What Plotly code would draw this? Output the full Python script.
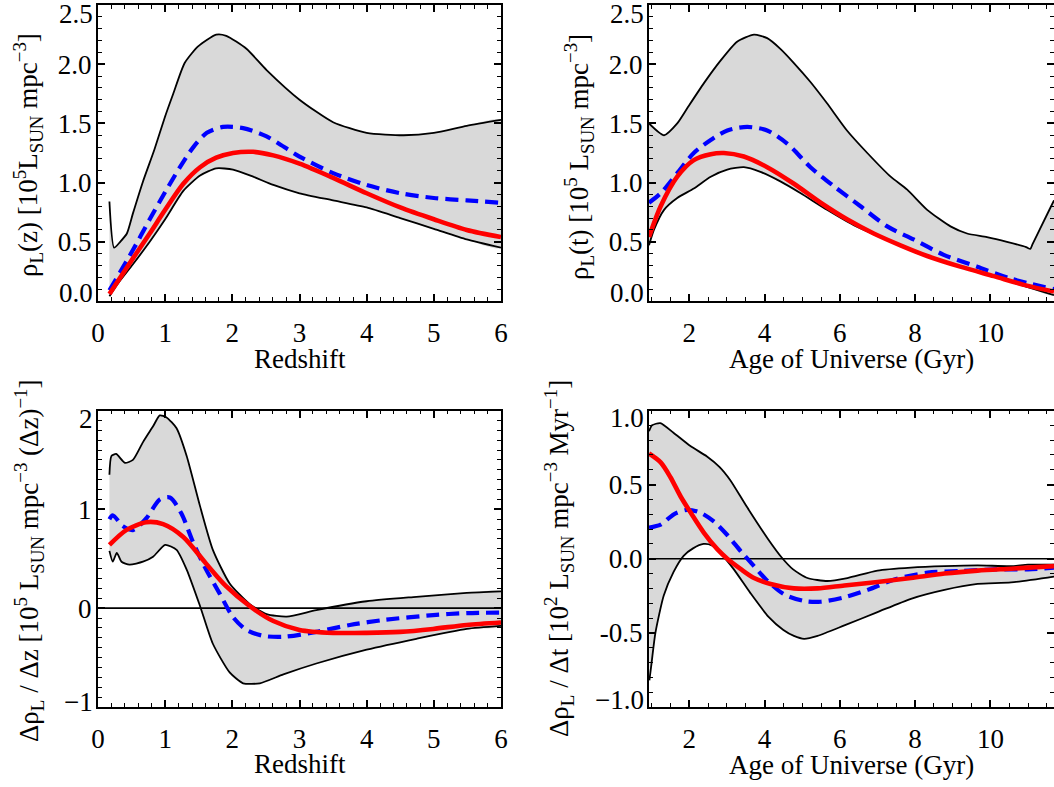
import plotly.graph_objects as go

# ---------------- data ----------------
# Top-left: rho_L(z)
z_up = [0.17, 0.24, 0.33, 0.43, 0.52, 0.67, 0.84, 1.00, 1.12, 1.29, 1.49, 1.76, 1.91, 2.21, 2.51, 3.00, 3.50, 4.00, 4.55, 5.00, 5.49, 6.00]
rho_z_up = [0.84, 0.45, 0.50, 0.57, 0.74, 1.01, 1.28, 1.56, 1.75, 2.01, 2.15, 2.25, 2.24, 2.13, 1.95, 1.70, 1.51, 1.42, 1.40, 1.42, 1.48, 1.53]
z_lo = [0.17, 0.30, 0.52, 0.77, 1.00, 1.27, 1.52, 1.76, 2.01, 2.31, 2.61, 3.00, 3.50, 4.00, 4.50, 5.00, 5.49, 6.00]
rho_z_lo = [0.04, 0.15, 0.31, 0.50, 0.69, 0.93, 1.06, 1.12, 1.11, 1.05, 0.98, 0.91, 0.85, 0.79, 0.70, 0.61, 0.52, 0.45]
z_blue = [0.17, 0.52, 0.77, 1.00, 1.22, 1.42, 1.62, 1.86, 2.16, 2.51, 3.00, 3.50, 4.00, 4.50, 5.00, 5.49, 6.00]
rho_z_blue = [0.09, 0.43, 0.69, 0.92, 1.13, 1.30, 1.42, 1.47, 1.46, 1.39, 1.22, 1.08, 0.98, 0.91, 0.87, 0.85, 0.83]
z_red = [0.17, 0.52, 0.77, 1.00, 1.27, 1.52, 1.76, 2.01, 2.31, 2.61, 3.00, 3.50, 4.00, 4.50, 5.00, 5.49, 6.00]
rho_z_red = [0.06, 0.36, 0.57, 0.77, 0.99, 1.13, 1.21, 1.25, 1.26, 1.23, 1.16, 1.04, 0.91, 0.79, 0.69, 0.60, 0.54]

# Top-right: rho_L(t)
t_up = [0.93, 1.33, 1.68, 1.97, 2.39, 2.83, 3.27, 3.72, 4.07, 4.42, 4.78, 5.22, 5.66, 6.19, 6.73, 7.35, 7.79, 8.32, 8.94, 9.38, 9.91, 10.44, 10.95, 11.06, 11.12, 11.69]
rho_t_up = [1.50, 1.40, 1.50, 1.64, 1.84, 2.03, 2.19, 2.25, 2.22, 2.13, 2.01, 1.85, 1.67, 1.44, 1.25, 1.05, 0.94, 0.77, 0.63, 0.57, 0.54, 0.50, 0.455, 0.44, 0.48, 0.85]
t_lo = [0.93, 1.06, 1.33, 1.68, 2.12, 2.57, 3.01, 3.45, 3.89, 4.42, 4.96, 5.66, 6.37, 7.08, 7.79, 8.50, 9.20, 10.09, 10.97, 11.69]
rho_t_lo = [0.47, 0.60, 0.77, 0.87, 0.95, 1.05, 1.11, 1.13, 1.09, 1.01, 0.91, 0.77, 0.64, 0.54, 0.45, 0.36, 0.29, 0.21, 0.12, 0.05]
t_blue = [0.93, 1.24, 1.68, 2.12, 2.57, 3.01, 3.54, 4.07, 4.60, 5.22, 5.84, 6.55, 7.26, 7.96, 8.76, 9.65, 10.53, 11.69]
rho_t_blue = [0.83, 0.91, 1.08, 1.25, 1.36, 1.44, 1.47, 1.44, 1.33, 1.13, 0.97, 0.80, 0.63, 0.52, 0.39, 0.29, 0.19, 0.10]
t_red = [0.93, 1.24, 1.68, 2.12, 2.57, 2.92, 3.45, 4.07, 4.78, 5.49, 6.19, 6.90, 7.61, 8.32, 9.20, 10.09, 10.97, 11.69]
rho_t_red = [0.54, 0.80, 1.05, 1.19, 1.24, 1.25, 1.22, 1.13, 0.99, 0.83, 0.69, 0.57, 0.47, 0.38, 0.29, 0.21, 0.13, 0.08]

# Bottom-left: d rho / dz
dz_up_x = [0.17, 0.20, 0.27, 0.40, 0.52, 0.67, 0.82, 0.92, 1.02, 1.17, 1.32, 1.52, 1.71, 1.96, 2.26, 2.51, 2.81, 3.25, 4.00, 4.74, 5.49, 6.00]
dz_up = [1.35, 1.54, 1.56, 1.47, 1.50, 1.68, 1.84, 1.95, 1.93, 1.82, 1.54, 1.03, 0.59, 0.25, 0.04, -0.06, -0.085, -0.02, 0.07, 0.115, 0.155, 0.17]
dz_lo_x = [0.17, 0.22, 0.28, 0.35, 0.47, 0.67, 0.82, 1.00, 1.17, 1.32, 1.52, 1.71, 1.96, 2.16, 2.41, 2.76, 3.25, 4.00, 4.74, 5.49, 6.00]
dz_lo = [0.58, 0.47, 0.56, 0.47, 0.44, 0.47, 0.52, 0.64, 0.59, 0.39, 0.02, -0.36, -0.65, -0.76, -0.76, -0.67, -0.56, -0.42, -0.31, -0.21, -0.18]
dz_blue_x = [0.17, 0.22, 0.37, 0.52, 0.72, 0.92, 1.07, 1.24, 1.42, 1.61, 1.81, 2.01, 2.21, 2.46, 2.76, 3.25, 3.75, 4.25, 4.99, 5.49, 6.00]
dz_blue = [0.90, 0.94, 0.83, 0.79, 0.91, 1.10, 1.12, 0.96, 0.66, 0.39, 0.15, -0.09, -0.22, -0.28, -0.29, -0.24, -0.17, -0.12, -0.07, -0.05, -0.045]
dz_red_x = [0.17, 0.42, 0.72, 0.97, 1.27, 1.61, 1.91, 2.26, 2.61, 3.00, 3.50, 4.00, 4.50, 4.99, 5.49, 6.00]
dz_red = [0.64, 0.79, 0.87, 0.85, 0.72, 0.45, 0.22, 0.02, -0.13, -0.22, -0.25, -0.25, -0.24, -0.21, -0.17, -0.145]

# Bottom-right: d rho / dt
dt_up_x = [0.93, 1.01, 1.23, 1.58, 2.03, 2.47, 2.80, 3.09, 3.53, 4.10, 4.45, 4.75, 5.14, 5.67, 6.20, 7.00, 7.89, 8.78, 9.66, 10.55, 11.00, 11.69]
dt_up = [0.86, 0.90, 0.915, 0.85, 0.76, 0.69, 0.62, 0.53, 0.35, 0.13, 0.01, -0.07, -0.13, -0.15, -0.13, -0.08, -0.06, -0.05, -0.045, -0.05, -0.04, -0.04]
dt_lo_x = [0.94, 1.00, 1.10, 1.32, 1.58, 1.85, 2.10, 2.38, 2.60, 2.82, 3.18, 3.62, 4.10, 4.50, 4.78, 5.05, 5.41, 6.12, 7.00, 7.89, 8.78, 9.66, 10.55, 11.69]
dt_lo = [-0.82, -0.70, -0.50, -0.25, -0.09, 0.02, 0.07, 0.10, 0.09, 0.04, -0.07, -0.23, -0.39, -0.48, -0.52, -0.54, -0.52, -0.45, -0.36, -0.27, -0.21, -0.17, -0.16, -0.12]
dt_blue_x = [0.93, 1.24, 1.59, 1.95, 2.30, 2.66, 3.01, 3.37, 3.72, 4.08, 4.52, 5.05, 5.49, 6.12, 6.74, 7.45, 8.33, 9.22, 10.10, 11.00, 11.69]
dt_blue = [0.21, 0.23, 0.30, 0.33, 0.31, 0.25, 0.16, 0.05, -0.05, -0.15, -0.24, -0.285, -0.29, -0.26, -0.21, -0.14, -0.094, -0.083, -0.072, -0.072, -0.06]
dt_red_x = [0.93, 1.24, 1.50, 1.77, 2.04, 2.39, 2.75, 3.01, 3.37, 3.72, 4.16, 4.78, 5.41, 6.12, 7.00, 7.89, 8.78, 9.66, 10.55, 11.69]
dt_red = [0.71, 0.65, 0.55, 0.42, 0.31, 0.175, 0.063, 0.0, -0.07, -0.13, -0.17, -0.20, -0.20, -0.18, -0.157, -0.13, -0.10, -0.08, -0.067, -0.05]

z_range = [0, 6]
t_range = [0.93, 11.69]
rho_range = [0, 2.5]
dz_range = [-1, 2]
dt_range = [-1, 1]

rho_ticks = [0.0, 0.5, 1.0, 1.5, 2.0, 2.5]
dz_ticks = [-1, 0, 1, 2]
dt_ticks = [-1.0, -0.5, 0.0, 0.5, 1.0]

# ---------------- styling ----------------
FONT = "Liberation Serif"
FS = 27
FILL = "#d9d9d9"
SMOOTH = 0.8
SMOOTH_BAND = 0.6

fig = go.Figure()


def add_panel(xa, ya, ux, uy, lx, ly, bx, by, rx, ry, xr, zero=False):
    fig.add_trace(go.Scatter(x=list(ux) + list(lx)[::-1], y=list(uy) + list(ly)[::-1],
                             fill="toself", fillcolor=FILL, mode="lines",
                             line=dict(width=0, color=FILL, shape="spline", smoothing=SMOOTH_BAND),
                             hoverinfo="skip", xaxis=xa, yaxis=ya, showlegend=False))
    if zero:
        fig.add_trace(go.Scatter(x=xr, y=[0, 0], mode="lines",
                                 line=dict(color="black", width=1.6),
                                 xaxis=xa, yaxis=ya, showlegend=False))
    for xs, ys in ((ux, uy), (lx, ly)):
        fig.add_trace(go.Scatter(x=xs, y=ys, mode="lines",
                                 line=dict(color="black", width=1.8, shape="spline", smoothing=SMOOTH_BAND),
                                 xaxis=xa, yaxis=ya, showlegend=False))
    fig.add_trace(go.Scatter(x=bx, y=by, mode="lines",
                             line=dict(color="#0000ff", width=4.2, dash="13px,7px",
                                       shape="spline", smoothing=SMOOTH),
                             xaxis=xa, yaxis=ya, showlegend=False))
    fig.add_trace(go.Scatter(x=rx, y=ry, mode="lines",
                             line=dict(color="#ff0000", width=4.6, shape="spline", smoothing=SMOOTH),
                             xaxis=xa, yaxis=ya, showlegend=False))


add_panel("x", "y", z_up, rho_z_up, z_lo, rho_z_lo, z_blue, rho_z_blue, z_red, rho_z_red, z_range)
add_panel("x2", "y2", t_up, rho_t_up, t_lo, rho_t_lo, t_blue, rho_t_blue, t_red, rho_t_red, t_range)
add_panel("x3", "y3", dz_up_x, dz_up, dz_lo_x, dz_lo, dz_blue_x, dz_blue, dz_red_x, dz_red, z_range, zero=True)
add_panel("x4", "y4", dt_up_x, dt_up, dt_lo_x, dt_lo, dt_blue_x, dt_blue, dt_red_x, dt_red, t_range, zero=True)

W, H = 1054, 787
XL = [98 / W, 501 / W]
XR = [649 / W, 1.0]
YT = [1 - 301 / H, 1 - 5 / H]
YB = [1 - 707 / H, 1 - 410.5 / H]


def axis(domain, rng, anchor, mdtick, dtick=None, tickvals=None, ticktext=None, standoff=None):
    d = dict(domain=domain, range=rng, anchor=anchor, automargin=False,
             ticks="inside", ticklen=7, tickwidth=1.6, tickcolor="black",
             showline=True, linewidth=2.2, linecolor="black", mirror="ticks",
             showgrid=False, zeroline=False,
             minor=dict(dtick=mdtick, ticks="inside", ticklen=3.5, tickwidth=1.4,
                        tickcolor="black", showgrid=False),
             tickfont=dict(family=FONT, size=FS, color="black"))
    if standoff is not None:
        d["ticklabelstandoff"] = standoff
    if dtick is not None:
        d.update(dtick=dtick, tick0=0, tickmode="linear")
    if tickvals is not None:
        d.update(tickmode="array", tickvals=tickvals, ticktext=ticktext)
    return d


def inner_text(vals, fmt):
    # the end labels are drawn as annotations (nudged inside the frame)
    return [""] + [fmt.format(v) for v in vals[1:-1]] + [""]


fig.update_layout(
    width=W, height=H, autosize=False,
    margin=dict(l=0, r=0, t=0, b=0, autoexpand=False),
    paper_bgcolor="white", plot_bgcolor="white",
    xaxis=axis(XL, z_range, "y", 0.2, dtick=1, standoff=6),
    yaxis=axis(YT, rho_range, "x", 0.1, tickvals=rho_ticks, ticktext=inner_text(rho_ticks, "{:.1f}"), standoff=-1),
    xaxis2=axis(XR, t_range, "y2", 0.5, dtick=2, standoff=6),
    yaxis2=axis(YT, rho_range, "x2", 0.1, tickvals=rho_ticks, ticktext=inner_text(rho_ticks, "{:.1f}"), standoff=-1),
    xaxis3=axis(XL, z_range, "y3", 0.2, dtick=1, standoff=6),
    yaxis3=axis(YB, dz_range, "x3", 0.1, tickvals=dz_ticks, ticktext=inner_text(dz_ticks, "{:d}"), standoff=-1),
    xaxis4=axis(XR, t_range, "y4", 0.5, dtick=2, standoff=6),
    yaxis4=axis(YB, dt_range, "x4", 0.1, tickvals=dt_ticks, ticktext=inner_text(dt_ticks, "{:.1f}"), standoff=-1),
)

tf = dict(family=FONT, size=FS, color="black")


def fmt_minus(s):
    return s.replace("-", "\u2212")


# end tick labels of the y axes, nudged inward like the reference
end_labels = [
    ("x", "y", rho_ticks, "{:.1f}", 8, 9),
    ("x2", "y2", rho_ticks, "{:.1f}", 8, 9),
    ("x3", "y3", dz_ticks, "{:d}", 5, 8),
    ("x4", "y4", dt_ticks, "{:.1f}", 7, 7),
]
for xa, ya, vals, f, sh_lo, sh_hi in end_labels:
    for v, sh in ((vals[0], sh_lo), (vals[-1], -sh_hi)):
        fig.add_annotation(xref=f"{xa} domain", yref=ya, x=0, y=v, text=fmt_minus(f.format(v)),
                           xanchor="right", yanchor="middle", xshift=-4, yshift=sh,
                           borderpad=0, showarrow=False, font=tf)

ann = [
    dict(text="Redshift", x=299.5 / W, y=1 - 359 / H),
    dict(text="Age of Universe (Gyr)", x=851 / W, y=1 - 359 / H),
    dict(text="Redshift", x=299.5 / W, y=1 - 764 / H),
    dict(text="Age of Universe (Gyr)", x=851 / W, y=1 - 765 / H),
    dict(text="ρ<sub>L</sub>(z) [10<sup>5</sup>L<sub>SUN</sub> mpc<sup>−3</sup>]",
         x=28 / W, y=1 - 155 / H, textangle=-90),
    dict(text="ρ<sub>L</sub>(t) [10<sup>5</sup> L<sub>SUN</sub> mpc<sup>−3</sup>]",
         x=579 / W, y=1 - 157 / H, textangle=-90),
    dict(text="Δρ<sub>L</sub> / Δz [10<sup>5</sup> L<sub>SUN</sub> mpc<sup>−3</sup> (Δz)<sup>−1</sup>]",
         x=29 / W, y=1 - 561 / H, textangle=-90),
    dict(text="Δρ<sub>L</sub> / Δt [10<sup>2</sup> L<sub>SUN</sub> mpc<sup>−3</sup> Myr<sup>−1</sup>]",
         x=559 / W, y=1 - 559 / H, textangle=-90),
]
for a in ann:
    fig.add_annotation(xref="paper", yref="paper", showarrow=False,
                       xanchor="center", yanchor="middle", font=tf, **a)

# remove the browser's default page margin so the 1054x787 figure fills the window exactly
fig.write_html("out.html", config={"displayModeBar": False},
               post_script="document.body.style.margin='0';document.body.style.overflow='hidden';")
